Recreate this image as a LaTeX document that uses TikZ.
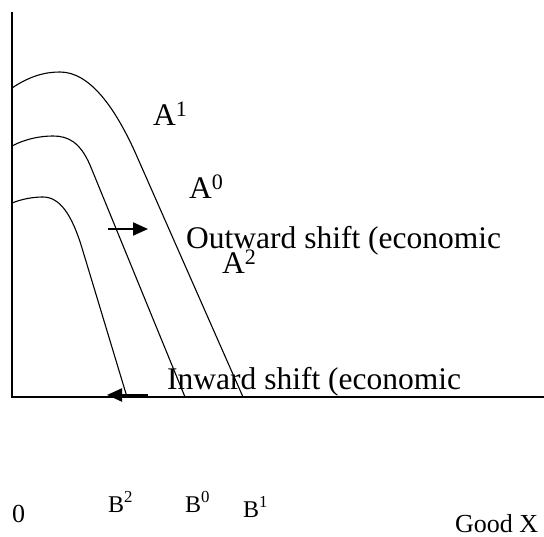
\documentclass[tikz,border=0pt]{standalone}
\usepackage{fontspec}
\setmainfont{Liberation Serif}
\usetikzlibrary{arrows.meta}

\begin{document}
\begin{tikzpicture}[
    x=1pt,y=-1pt,
    axis/.style={line width=1.1pt},
    ppf/.style={line width=1.1pt},
    shiftarrow/.style={line width=2pt,-{Triangle[length=15pt,width=13pt]}},
    biglbl/.style={anchor=base west,inner sep=0pt,font=\fontsize{31.5}{31.5}\selectfont},
    axlbl/.style={anchor=base west,inner sep=0pt,font=\fontsize{24}{24}\selectfont},
    numlbl/.style={anchor=base west,inner sep=0pt,font=\fontsize{26}{26}\selectfont}]
    \useasboundingbox (0,0) rectangle (544,537);
    % axes
    \coordinate (o) at (12,397);
    \coordinate (ytop) at (12,12);
    \coordinate (xend) at (544,397);
    \draw[axis] (ytop) -- (o) -- (xend);
    % frontiers
    \draw[ppf] (12,88) .. controls (30,76) and (45,72) .. (60,72)
        .. controls (90,72) and (115,108) .. (135,152) -- (243,397);
    \draw[ppf] (12,146) .. controls (25,139) and (40,136) .. (53,136)
        .. controls (68,136) and (80,142) .. (90,165) -- (185,397);
    \draw[ppf] (12,203) .. controls (22,199) and (33,197) .. (43,197)
        .. controls (60,197) and (72,215) .. (82,248) -- (127,397);
    % shifts
    \coordinate (out0) at (108,229);
    \coordinate (out1) at (148,229);
    \coordinate (in0) at (148,395);
    \coordinate (in1) at (107,395);
    \draw[shiftarrow] (out0) -- (out1);
    \draw[shiftarrow] (in0) -- (in1);
    % labels
    \node[biglbl] (a1) at (153,126) {A\textsuperscript{1}};
    \node[biglbl] (a0) at (189,199) {A\textsuperscript{0}};
    \node[biglbl] (outw) at (186,249) {Outward shift (economic};
    \node[biglbl] (a2) at (222,274) {A\textsuperscript{2}};
    \node[biglbl] (inw) at (167,390) {Inward shift (economic};
    \node[numlbl] (zero) at (12,522) {0};
    \node[axlbl] (b2) at (108,512) {B\textsuperscript{2}};
    \node[axlbl] (b0) at (185,512) {B\textsuperscript{0}};
    \node[axlbl] (b1) at (243,517) {B\textsuperscript{1}};
    \node[numlbl] (goodx) at (455,532) {Good X};
\end{tikzpicture}
\end{document}
